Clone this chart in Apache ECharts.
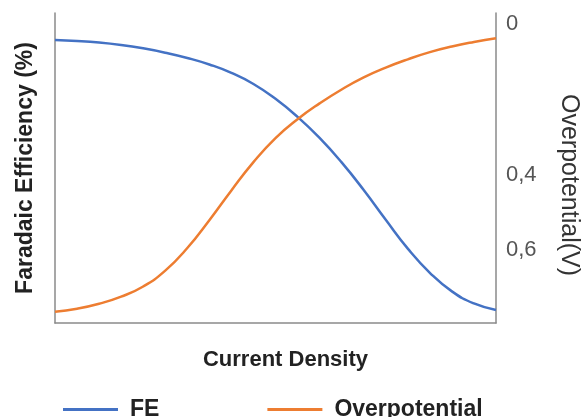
<!DOCTYPE html>
<html>
<head>
<meta charset="utf-8">
<script src="https://cdn.jsdelivr.net/npm/echarts@6/dist/echarts.min.js"></script>
<style>
  html, body { margin: 0; padding: 0; background: #fff; }
  #chart { width: 582px; height: 417px; }
</style>
</head>
<body>
<div id="chart"></div>
<script>
// current density (arbitrary units)
const density = [0, 5, 10, 15, 20, 25, 30, 35, 40, 45, 50, 55, 60, 65, 70, 75, 80, 85, 90, 95, 100];
// faradaic efficiency, %
const fe = [91.3, 91.0, 90.5, 89.7, 88.6, 87.2, 85.5, 83.4, 80.7, 77.1, 72.3,
            66.5, 59.7, 51.8, 42.9, 33.3, 24.0, 16.2, 10.2, 6.3, 4.2];
// overpotential, V
const overpotential = [0.764, 0.756, 0.743, 0.724, 0.697, 0.655, 0.595, 0.521, 0.442, 0.367, 0.303,
                       0.253, 0.211, 0.174, 0.142, 0.116, 0.094, 0.075, 0.060, 0.048, 0.038];
// right axis labels
const etaTicks = [0, 0.4, 0.6];

const axisGray = '#8a8a8a';
const font = 'Liberation Sans, Arial, sans-serif';

const chart = echarts.init(document.getElementById('chart'));
chart.setOption({
  animation: false,
  textStyle: { fontFamily: font },
  grid: { left: 55, right: 86, top: 13, bottom: 94, outerBoundsMode: 'none' },
  legend: {
    left: 58,
    top: 393,
    itemWidth: 55,
    itemHeight: 3,
    itemGap: 108,
    icon: 'rect',
    textStyle: { fontSize: 23, fontWeight: 'bold', color: '#222', fontFamily: font, padding: [0, 0, 0, 7] },
    data: ['FE', 'Overpotential']
  },
  xAxis: {
    type: 'value',
    min: 0,
    max: 100,
    name: 'Current Density',
    nameLocation: 'middle',
    nameGap: 26,
    nameTextStyle: { fontSize: 22, fontWeight: 'bold', color: '#222', padding: [0, 0, 0, 20] },
    axisLine: { show: true, lineStyle: { color: axisGray, width: 1.5 } },
    axisTick: { show: false },
    axisLabel: { show: false },
    splitLine: { show: false }
  },
  yAxis: [
    {
      type: 'value',
      min: 0,
      max: 100,
      position: 'left',
      name: 'Faradaic Efficiency (%)',
      nameLocation: 'middle',
      nameRotate: 90,
      nameGap: 18,
      nameTextStyle: { fontSize: 23, fontWeight: 'bold', color: '#222' },
      axisLine: { show: true, lineStyle: { color: axisGray, width: 1.5 } },
      axisTick: { show: false },
      axisLabel: { show: false },
      splitLine: { show: false }
    },
    {
      type: 'value',
      min: -0.029,
      max: 0.794,
      inverse: true,
      position: 'right',
      name: 'Overpotential(V)',
      nameLocation: 'middle',
      nameRotate: -90,
      nameGap: 60,
      nameTextStyle: { fontSize: 25, color: '#333', padding: [0, 0, 0, 34] },
      axisLine: { show: true, lineStyle: { color: axisGray, width: 1.5 } },
      axisTick: { show: false },
      axisLabel: {
        customValues: etaTicks,
        margin: 10,
        fontSize: 22,
        color: '#555',
        formatter: v => String(v).replace('.', ',')
      },
      splitLine: { show: false }
    }
  ],
  series: [
    {
      name: 'FE',
      type: 'line',
      yAxisIndex: 0,
      smooth: 0.5,
      showSymbol: false,
      color: '#4472C4',
      lineStyle: { width: 2.5, color: '#4472C4' },
      data: density.map((x, i) => [x, fe[i]])
    },
    {
      name: 'Overpotential',
      type: 'line',
      yAxisIndex: 1,
      smooth: 0.5,
      showSymbol: false,
      color: '#ED7D31',
      lineStyle: { width: 2.5, color: '#ED7D31' },
      data: density.map((x, i) => [x, overpotential[i]])
    }
  ]
});
</script>
</body>
</html>
